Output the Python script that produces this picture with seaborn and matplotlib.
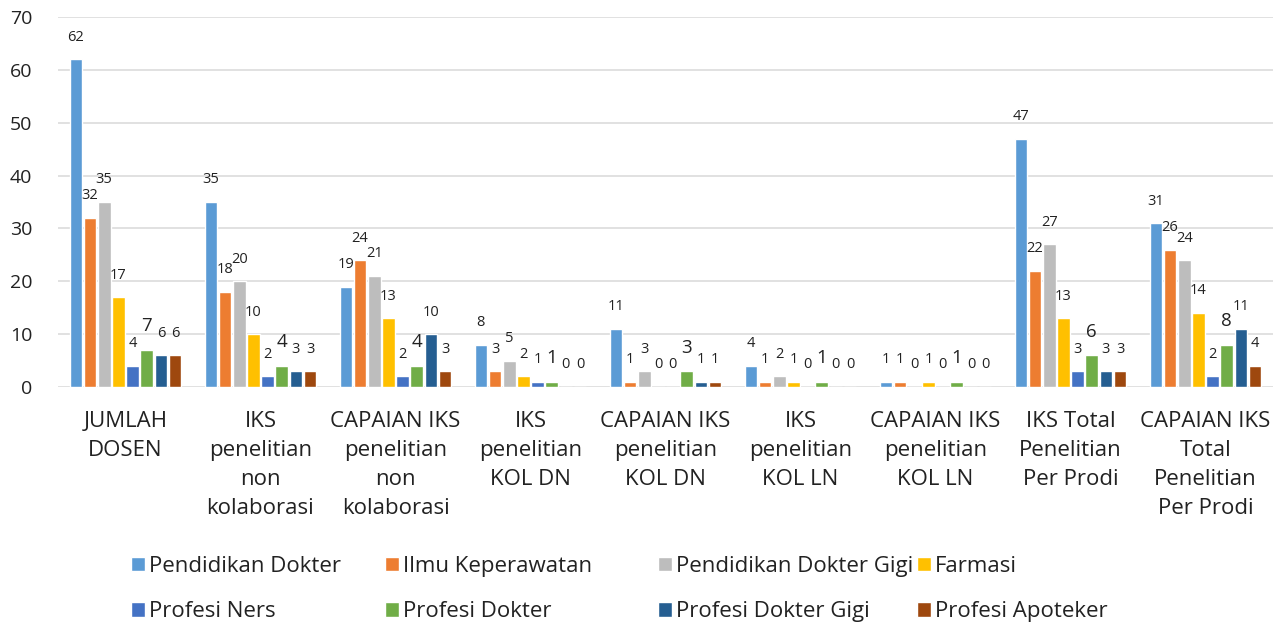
import numpy as np
import pandas as pd
import matplotlib.pyplot as plt
import seaborn as sns

categories = [
    "JUMLAH\nDOSEN",
    "IKS\npenelitian\nnon\nkolaborasi",
    "CAPAIAN IKS\npenelitian\nnon\nkolaborasi",
    "IKS\npenelitian\nKOL DN",
    "CAPAIAN IKS\npenelitian\nKOL DN",
    "IKS\npenelitian\nKOL LN",
    "CAPAIAN IKS\npenelitian\nKOL LN",
    "IKS Total\nPenelitian\nPer Prodi",
    "CAPAIAN IKS\nTotal\nPenelitian\nPer Prodi",
]

pendidikan_dokter = [62, 35, 19, 8, 11, 4, 1, 47, 31]
ilmu_keperawatan = [32, 18, 24, 3, 1, 1, 1, 22, 26]
pendidikan_dokter_gigi = [35, 20, 21, 5, 3, 2, 0, 27, 24]
farmasi = [17, 10, 13, 2, 0, 1, 1, 13, 14]
profesi_ners = [4, 2, 2, 1, 0, 0, 0, 3, 2]
profesi_dokter = [7, 4, 4, 1, 3, 1, 1, 6, 8]
profesi_dokter_gigi = [6, 3, 10, 0, 1, 0, 0, 3, 11]
profesi_apoteker = [6, 3, 3, 0, 1, 0, 0, 3, 4]

series = {
    "Pendidikan Dokter": pendidikan_dokter,
    "Ilmu Keperawatan": ilmu_keperawatan,
    "Pendidikan Dokter Gigi": pendidikan_dokter_gigi,
    "Farmasi": farmasi,
    "Profesi Ners": profesi_ners,
    "Profesi Dokter": profesi_dokter,
    "Profesi Dokter Gigi": profesi_dokter_gigi,
    "Profesi Apoteker": profesi_apoteker,
}
colors = ["#5B9BD5", "#ED7D31", "#BDBDBD", "#FFC000",
          "#4472C4", "#70AD47", "#255E91", "#9E480E"]

rows = []
for name, vals in series.items():
    for cat, v in zip(categories, vals):
        rows.append({"kategori": cat, "nilai": v, "prodi": name})
df = pd.DataFrame(rows)

sns.set_style("white")
plt.rcParams["font.family"] = ["Open Sans", "DejaVu Sans"]
text_color = "#222222"

fig = plt.figure(figsize=(12.78, 6.24), dpi=100)
ax = fig.add_axes([58 / 1278, 1 - 387 / 624, 1215 / 1278, 370 / 624])

sns.barplot(data=df, x="kategori", y="nilai", hue="prodi", order=categories,
            hue_order=list(series.keys()), palette=colors, saturation=1,
            width=0.84, gap=0.1, ax=ax)

# data labels, Profesi Dokter drawn larger as in the original
for i, cont in enumerate(ax.containers):
    size = 13.5 if i == 5 else 10.5
    ax.bar_label(cont, labels=[str(v) for v in list(series.values())[i]],
                 padding=10.5, fontsize=size, color=text_color)

ax.set_ylim(0, 70)
ax.set_xlim(-0.5, len(categories) - 0.5)
ax.set_yticks(range(0, 71, 10))
ax.set_xticks(range(len(categories)))
ax.set_xticklabels(categories, linespacing=1.5)
ax.yaxis.grid(True, color="#D9D9D9", linewidth=1.1)
ax.set_axisbelow(True)
for s in ax.spines.values():
    s.set_visible(False)
ax.set_xlabel("")
ax.set_ylabel("")
ax.tick_params(axis="y", length=0, pad=18.5, labelsize=14, labelcolor=text_color)
ax.tick_params(axis="x", length=0, pad=17, labelsize=16, labelcolor=text_color)

handles, labels = ax.get_legend_handles_labels()
ax.get_legend().remove()

# legend laid out in fixed columns like the original
col_x = [131, 385, 658, 917]
for c, x in enumerate(col_x):
    leg = fig.legend([handles[c], handles[c + 4]], [labels[c], labels[c + 4]],
                     loc="center left", bbox_to_anchor=(x / 1278, 1 - 589 / 624),
                     frameon=False, fontsize=16, labelcolor=text_color,
                     handlelength=0.63, handleheight=0.63, handletextpad=0.17,
                     labelspacing=1.1, borderpad=0, borderaxespad=0)

fig.savefig("out.png", dpi=100)
